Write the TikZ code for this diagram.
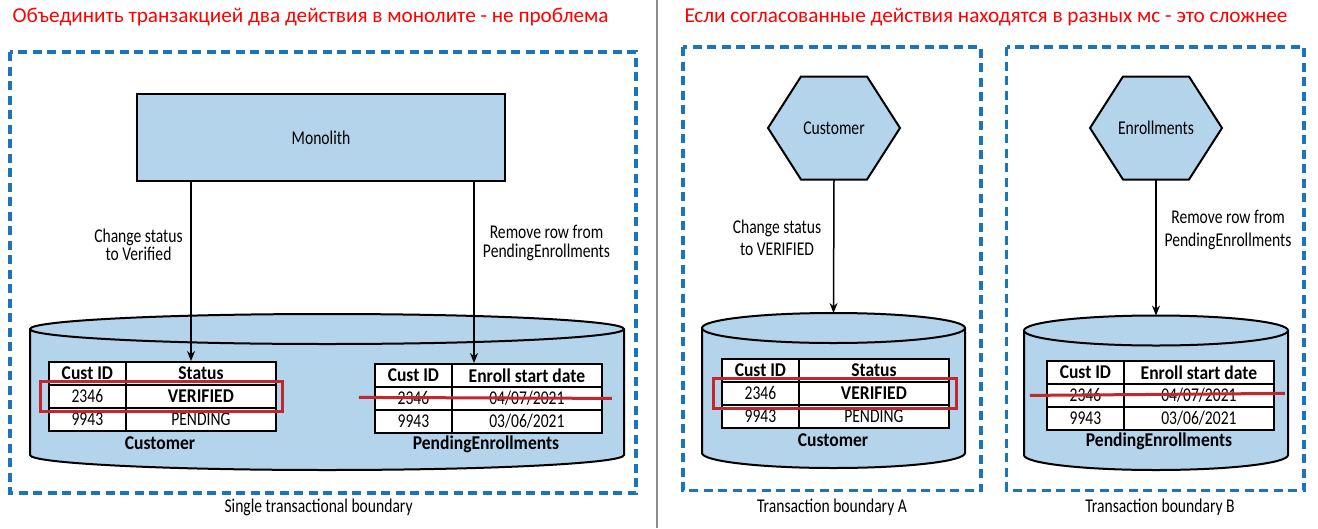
\documentclass[tikz,border=0pt]{standalone}
\usepackage{fontspec}
\setmainfont{Carlito}[FakeStretch=0.8,BoldFeatures={FakeStretch=0.9}]
\newfontfamily\titlefont{Carlito}
\usetikzlibrary{arrows.meta,matrix}
\definecolor{dbblue}{HTML}{B3D4EA}
\definecolor{dashblue}{HTML}{1B75BC}
\definecolor{hlred}{HTML}{C1272D}
\definecolor{sepgray}{HTML}{8C8C8C}
\newcommand{\dfont}{\fontsize{19.5}{22}\selectfont}
% cylinder: name, cx, rx, ytop, ybot, ry
\newcommand{\dbcyl}[6]{%
  \filldraw[dbshape] ({#2-#3},#4) -- ({#2-#3},#5) arc[start angle=180,end angle=360,x radius=#3pt,y radius=#6pt]
    -- ({#2+#3},#4) arc[start angle=0,end angle=180,x radius=#3pt,y radius=#6pt] -- cycle;
  \draw[dbshape] ({#2-#3},#4) arc[start angle=180,end angle=360,x radius=#3pt,y radius=#6pt];
  \coordinate (#1) at (#2,{#4-#6});
}
% hexagon: name, cx, cy, text
\newcommand{\hexnode}[4]{%
  \filldraw[hexshape] ({#2-66},#3) -- ({#2-33},{#3-51.5}) -- ({#2+33},{#3-51.5}) -- ({#2+66},#3)
    -- ({#2+33},{#3+51.5}) -- ({#2-33},{#3+51.5}) -- cycle;
  \node[hexlbl] (#1) at (#2,#3) {#4};
}
\begin{document}
\begin{tikzpicture}[x=1pt,y=-1pt,font=\dfont,
  boundary/.style={draw=dashblue,line width=3.5pt,dash pattern=on 9pt off 5.5pt},
  dbshape/.style={draw=black,fill=dbblue,line width=2pt},
  hexshape/.style={draw=black,fill=dbblue,line width=2pt},
  hexlbl/.style={minimum height=103pt,inner sep=0pt,outer sep=0pt},
  main box/.style={draw=black,fill=dbblue,line width=2pt,minimum width=368pt,minimum height=87pt},
  arr/.style={-{Stealth[length=10pt,width=8pt]},line width=1.5pt},
  cell/.style={draw,line width=1.8pt,fill=white,minimum height=23pt,inner sep=0pt,outer sep=0pt,anchor=center},
  tbl/.style={matrix of nodes,anchor=north west,inner sep=0pt,outer sep=0pt,column sep=-1.8pt,row sep=-1.8pt,
    nodes={cell},column 1/.style={nodes={minimum width=77pt}},column 2/.style={nodes={minimum width=150pt}},
    row 1/.style={nodes={font=\dfont\bfseries}}},
  hl/.style={draw=hlred,line width=3pt},
  tname/.style={font=\dfont\bfseries},
  title/.style={anchor=west,text=red,font=\titlefont\fontsize{21.2}{24}\selectfont}]
\useasboundingbox (0,0) rectangle (1318,528);

\node [title] (t1) at (9,17) {Объединить транзакцией два действия в монолите - не проблема};
\node [title] (t2) at (681,17) {Если согласованные действия находятся в разных мс - это сложнее};
\draw [sepgray,line width=2pt] (657,0) -- (657,528);

% left: monolith
\draw [boundary] (10,52) rectangle (636,493);
\node [main box] (mono) at (321,137.5) {Monolith};
\dbcyl{cylL}{327}{297}{329}{455}{15}
\matrix (tc) at (48,361) [tbl] {
  Cust ID & Status \\
  2346 & |[font=\dfont\bfseries]| VERIFIED \\
  9943 & PENDING \\
};
\matrix (tp) at (374,363) [tbl] {
  Cust ID & Enroll start date \\
  2346 & 04/07/2021 \\
  9943 & 03/06/2021 \\
};
\draw [hl] ([xshift=-8pt,yshift=3pt]tc-2-1.north west) rectangle ([xshift=7pt,yshift=-4pt]tc-2-2.south east);
\draw [hl] ([xshift=-16pt,yshift=1pt]tp-2-1.west) -- ([xshift=10pt]tp-2-2.east);
\node [tname] (nc) at (160,443) {Customer};
\node [tname] (np) at (486,444) {PendingEnrollments};
\draw [arr] ([xshift=-130pt]mono.south) -- ([xshift=-130pt]mono.south |- tc.north);
\draw [arr] ([xshift=153pt]mono.south) -- ([xshift=153pt]mono.south |- tp.north);
\node [align=center,font=\fontsize{19.5}{18}\selectfont] (l1) at (138.5,245) {Change status\\to Verified};
\node [align=center,font=\fontsize{19.5}{19}\selectfont] (l2) at (546.5,242.5) {Remove row from\\PendingEnrollments};
\node (b1) at (318.6,507) {Single transactional boundary};

% right: two services
\draw [boundary] (683,47) rectangle (981,490.5);
\draw [boundary] (1006.5,47) rectangle (1304,490.5);
\hexnode{hexA}{834}{128}{Customer}
\hexnode{hexB}{1156}{128}{Enrollments}
\dbcyl{cylA}{833.5}{131.5}{328}{453}{15}
\dbcyl{cylB}{1156}{132}{330.5}{455}{15}
\matrix (ta) at (721,358) [tbl] {
  Cust ID & Status \\
  2346 & |[font=\dfont\bfseries]| VERIFIED \\
  9943 & PENDING \\
};
\matrix (tb) at (1046,360) [tbl] {
  Cust ID & Enroll start date \\
  2346 & 04/07/2021 \\
  9943 & 03/06/2021 \\
};
\draw [hl] ([xshift=-8pt,yshift=3pt]ta-2-1.north west) rectangle ([xshift=8pt,yshift=-4pt]ta-2-2.south east);
\draw [hl] ([xshift=-17pt]tb-2-1.west) -- ([xshift=11pt,yshift=2pt]tb-2-2.east);
\node [tname] (na) at (833,440) {Customer};
\node [tname] (nb) at (1159,441.5) {PendingEnrollments};
\draw [arr] (hexA.south) -- (cylA);
\draw [arr] (hexB.south) -- (cylB);
\node [align=center,font=\fontsize{19.5}{22}\selectfont] (l3) at (777,238) {Change status\\to VERIFIED};
\node [align=center,font=\fontsize{19.5}{23}\selectfont] (l4) at (1228,229.5) {Remove row from\\PendingEnrollments};
\node (b2) at (832,507) {Transaction boundary A};
\node (b3) at (1160,507) {Transaction boundary B};
\end{tikzpicture}
\end{document}
